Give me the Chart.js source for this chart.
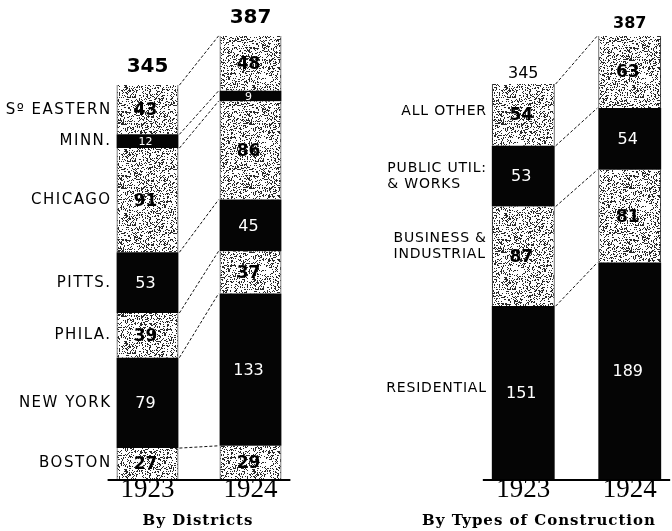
<!DOCTYPE html>
<html>
<head>
<meta charset="utf-8">
<script src="https://cdn.jsdelivr.net/npm/chart.js@4.4.1/dist/chart.umd.min.js"></script>
<style>
  html, body { margin: 0; padding: 0; background: #fff; }
  #wrap { position: relative; width: 672px; height: 531px; overflow: hidden; }
  canvas { position: absolute; top: 0; }
</style>
</head>
<body>
<div id="wrap">
  <canvas id="districts" width="336" height="531" style="left:0"></canvas>
  <canvas id="types" width="305" height="531" style="left:380px"></canvas>
</div>
<script>
// datos (millones)
const years = ['1923', '1924'];
const totals = [345, 387];

const districtNames = ['BOSTON', 'NEW YORK', 'PHILA.', 'PITTS.', 'CHICAGO', 'MINN.', 'S\u00BA EASTERN'];
const districts1923 = [27, 79, 39, 53, 91, 12, 43];
const districts1924 = [29, 133, 37, 45, 86, 9, 48];
const districtDark = [false, true, false, true, false, true, false];

const typeNames = ['RESIDENTIAL', 'BUSINESS &\nINDUSTRIAL', 'PUBLIC UTIL:\n& WORKS', 'ALL OTHER'];
const types1923 = [151, 87, 53, 54];
const types1924 = [189, 81, 54, 63];
const typeDark = [true, false, true, false];

// textura punteada (determinista)
function stipple(ctx) {
    const c = document.createElement('canvas');
    c.width = 64; c.height = 64;
    const g = c.getContext('2d');
    g.fillStyle = '#fff';
    g.fillRect(0, 0, 64, 64);
    g.fillStyle = '#2a2a2a';
    let s = 12345;
    for (let i = 0; i < 1300; i++) {
        s = (s * 16807) % 2147483647;
        const x = s % 64;
        s = (s * 16807) % 2147483647;
        const y = s % 64;
        g.fillRect(x, y, 1, 1);
    }
    return ctx.createPattern(c, 'repeat');
}

const labelsPlugin = {
    id: 'labelsPlugin',
    afterDatasetsDraw(chart, args, opts) {
        const ctx = chart.ctx;
        const n = chart.data.datasets.length;
        ctx.save();

        // lineas punteadas entre barras
        ctx.strokeStyle = '#111';
        ctx.lineWidth = 1;
        ctx.setLineDash([3, 2]);
        for (let i = 0; i < n; i++) {
            const m = chart.getDatasetMeta(i);
            const a = m.data[0], b = m.data[1];
            ctx.beginPath();
            ctx.moveTo(a.x + a.width / 2 + 1, a.y);
            ctx.lineTo(b.x - b.width / 2 - 1, b.y);
            ctx.stroke();
        }
        ctx.setLineDash([]);

        // linea base
        const a0 = chart.getDatasetMeta(0).data[0];
        const b0 = chart.getDatasetMeta(0).data[1];
        ctx.lineWidth = 2;
        ctx.strokeStyle = '#000';
        ctx.beginPath();
        ctx.moveTo(a0.x - a0.width / 2 - 9, a0.base + 1);
        ctx.lineTo(b0.x + b0.width / 2 + 9, a0.base + 1);
        ctx.stroke();

        // valores dentro de los segmentos
        ctx.textAlign = 'center';
        ctx.textBaseline = 'middle';
        for (let i = 0; i < n; i++) {
            const ds = chart.data.datasets[i];
            const m = chart.getDatasetMeta(i);
            m.data.forEach((el, j) => {
                const h = el.base - el.y;
                ctx.fillStyle = ds.dark ? '#fff' : '#000';
                ctx.font = ds.dark ? (h < 14 ? '11px "DejaVu Sans"' : opts.valueFont) : 'bold 17px "DejaVu Sans"';
                ctx.fillText(ds.data[j], el.x - 2, (el.y + el.base) / 2 + 1);
            });
        }

        // nombres de categorias a la izquierda (bloque alineado a la izquierda)
        ctx.textAlign = 'left';
        ctx.fillStyle = '#000';
        ctx.font = opts.nameFont;
        if ('letterSpacing' in ctx) ctx.letterSpacing = opts.spacing;
        for (let i = 0; i < n; i++) {
            const el = chart.getDatasetMeta(i).data[0];
            const lines = chart.data.datasets[i].label.split('\n');
            const w = Math.max(...lines.map(t => ctx.measureText(t).width));
            const x0 = el.x - el.width / 2 - 5 - w;
            const cy = (el.y + el.base) / 2 + (opts.nameShift[i] || 0);
            lines.forEach((t, k) => {
                const y = cy + (k - (lines.length - 1) / 2) * opts.lineH;
                ctx.fillText(t, x0, y);
            });
        }
        if ('letterSpacing' in ctx) ctx.letterSpacing = '0px';

        // totales, anos y titulo
        ctx.textAlign = 'center';
        const top = chart.getDatasetMeta(n - 1);
        top.data.forEach((el, j) => {
            ctx.font = opts.totalFont[j];
            ctx.fillText(totals[j], el.x, el.y - opts.totalGap[j]);
            ctx.font = '27px "Liberation Serif"';
            ctx.fillText(years[j], el.x, 490);
        });
        ctx.font = 'bold 15px "DejaVu Serif"';
        if ('letterSpacing' in ctx) ctx.letterSpacing = '1px';
        ctx.fillText(opts.title, opts.titleX, 521);
        ctx.restore();
    }
};

function buildChart(id, names, v1923, v1924, dark, pad, barPct, opts) {
    const ctx = document.getElementById(id).getContext('2d');
    const dots = stipple(ctx);
    const datasets = names.map((name, i) => ({
        label: name,
        data: [v1923[i], v1924[i]],
        dark: dark[i],
        backgroundColor: dark[i] ? '#050505' : dots,
        borderColor: '#000',
        borderWidth: dark[i] ? 0 : { left: 1, right: 1, top: 0, bottom: 0 },
        borderSkipped: false,
        categoryPercentage: 1,
        barPercentage: barPct
    }));
    return new Chart(ctx, {
        type: 'bar',
        data: { labels: years, datasets: datasets },
        options: {
            responsive: false,
            animation: false,
            layout: { padding: pad },
            plugins: {
                legend: { display: false },
                tooltip: { enabled: false },
                labelsPlugin: opts
            },
            scales: {
                x: { stacked: true, display: false },
                y: { stacked: true, display: false, min: 0, max: 400 }
            }
        },
        plugins: [labelsPlugin]
    });
}

buildChart('districts', districtNames, districts1923, districts1924, districtDark,
    { left: 96, right: 34, top: 21, bottom: 52 }, 0.6, {
        valueFont: '16px "DejaVu Sans"',
        nameFont: '15px "DejaVu Sans"',
        spacing: '1.5px',
        lineH: 16,
        nameShift: [],
        totalFont: ['bold 20px "DejaVu Sans"', 'bold 20px "DejaVu Sans"'],
        totalGap: [18, 18],
        title: 'By Districts',
        titleX: 198
    });

buildChart('types', typeNames, types1923, types1924, typeDark,
    { left: 90, right: 2, top: 21, bottom: 52 }, 0.59, {
        valueFont: '16px "DejaVu Sans"',
        nameFont: '14px "DejaVu Sans"',
        spacing: '0.8px',
        lineH: 16,
        nameShift: [-4, -10, 0, -4],
        totalFont: ['16px "DejaVu Sans"', 'bold 16px "DejaVu Sans"'],
        totalGap: [10, 12],
        title: 'By Types of Construction',
        titleX: 159
    });
</script>
</body>
</html>
